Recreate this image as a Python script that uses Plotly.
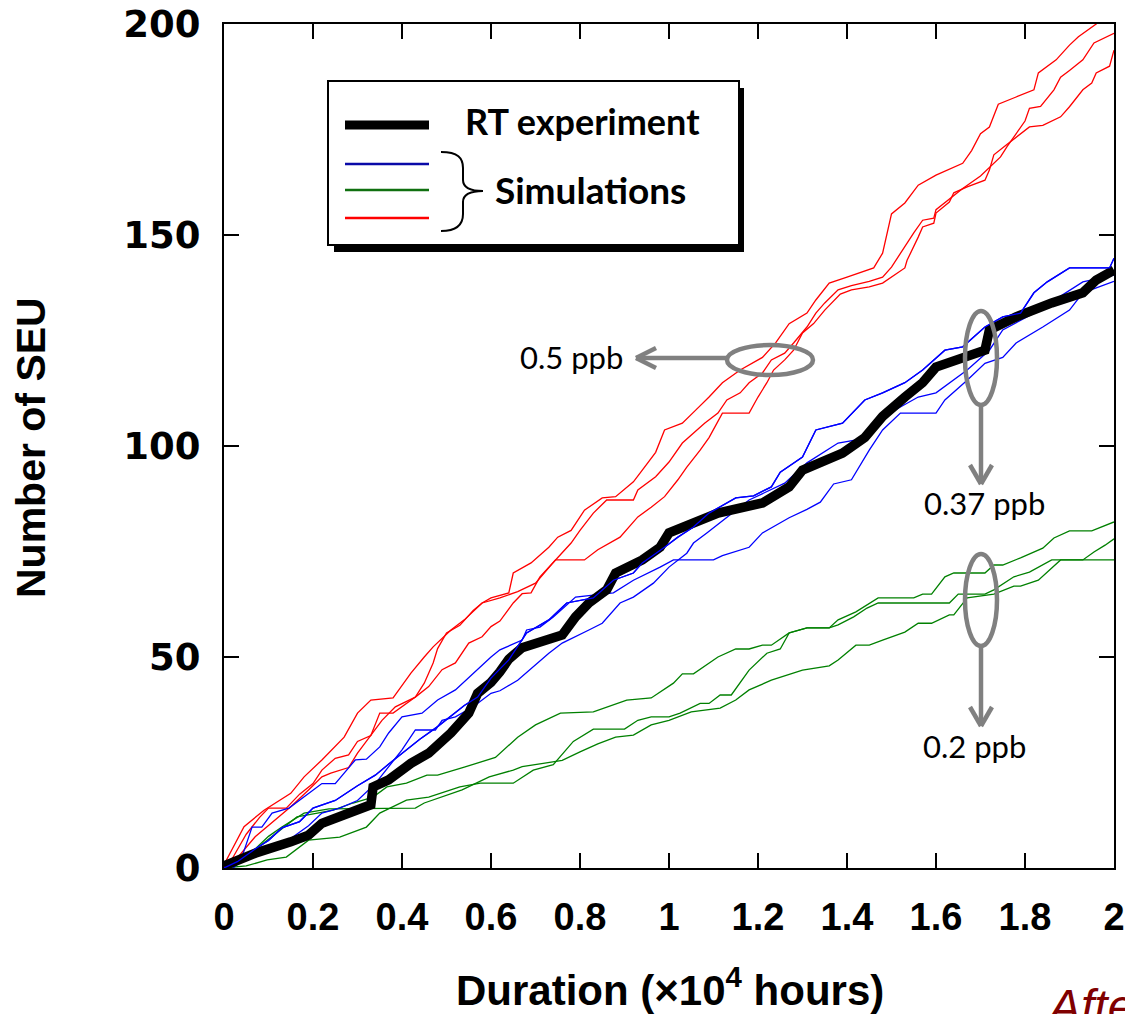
import plotly.graph_objects as go

# RT experiment (x in 10^4 hours, cumulative SEU count)
rt_exp = [(0, 0.5), (0.07, 3.5), (0.15, 6.2), (0.19, 7.8), (0.22, 10.6), (0.28, 13.3), (0.33, 15.0),
          (0.335, 19.2), (0.37, 20.9), (0.42, 24.8), (0.46, 27.2), (0.51, 32.0), (0.55, 36.7), (0.57, 41.4),
          (0.60, 44.0), (0.62, 46.5), (0.64, 49.5), (0.67, 52.2), (0.72, 54.0), (0.76, 55.2), (0.79, 59.5),
          (0.82, 62.8), (0.86, 65.9), (0.88, 69.9), (0.94, 73.0), (0.98, 76.0), (1.0, 79.4), (1.03, 80.8),
          (1.06, 81.8), (1.11, 84.1), (1.21, 86.5), (1.27, 90.3), (1.30, 94.3), (1.39, 98.3), (1.44, 102.0),
          (1.48, 107.0), (1.53, 111.6), (1.57, 115.0), (1.60, 118.7), (1.67, 121.0), (1.71, 122.7),
          (1.72, 127.5), (1.78, 130.6), (1.86, 133.9), (1.93, 136.3), (1.96, 139.3), (2.0, 141.7)]

# simulations at 0.37 ppb (blue)
blue_a = [(0, 0), (0.02, 0.5), (0.04, 2.5), (0.063, 9.7), (0.085, 9.7), (0.108, 13), (0.146, 14.2), (0.19, 17.7),
          (0.22, 20), (0.25, 20), (0.27, 22.5), (0.295, 25.6), (0.32, 25.8), (0.35, 28.7), (0.37, 32), (0.40, 35.8),
          (0.445, 36.7), (0.48, 39.8), (0.52, 42.2), (0.56, 46.2), (0.60, 50), (0.62, 51.7), (0.67, 54), (0.68, 56.4),
          (0.71, 57.1), (0.74, 59.5), (0.79, 64.2), (0.875, 65.2), (0.92, 68.2), (0.98, 71.3), (1.01, 73), (1.10, 73),
          (1.12, 74), (1.18, 76), (1.21, 79.4), (1.27, 83), (1.31, 85), (1.34, 86.7), (1.37, 91), (1.41, 92),
          (1.45, 99), (1.48, 103.8), (1.52, 107.8), (1.60, 107.8), (1.62, 110.9), (1.67, 115.6), (1.71, 119.6),
          (1.75, 121), (1.78, 124.4), (1.84, 128.2), (1.90, 132.2), (1.93, 136.3), (2.0, 139)]
blue_b = [(0, 0), (0.03, 1.5), (0.07, 4.5), (0.10, 6.5), (0.13, 9.5), (0.17, 11), (0.20, 14.2), (0.25, 16),
          (0.30, 19.5), (0.34, 22), (0.38, 25.5), (0.41, 28), (0.44, 30.5), (0.48, 33.5), (0.51, 36), (0.54, 38.5),
          (0.57, 40.5), (0.60, 45), (0.64, 49.3), (0.68, 55.7), (0.73, 58.8), (0.77, 62.8), (0.83, 64), (0.875, 68.2),
          (0.92, 69.9), (0.94, 72.3), (0.99, 76), (1.02, 78.4), (1.055, 80.8), (1.09, 84.1), (1.15, 87.7),
          (1.19, 88.2), (1.23, 90.3), (1.25, 93.8), (1.30, 97.4), (1.33, 103.8), (1.39, 105.4), (1.44, 110.9),
          (1.48, 112.6), (1.53, 115), (1.57, 118), (1.62, 122.7), (1.66, 123.5), (1.71, 128.2), (1.75, 130.6),
          (1.79, 131.5), (1.82, 136.3), (1.85, 138.9), (1.90, 142.2), (1.99, 142.2), (2.0, 144.5)]
blue_c = [(0.02, 0), (0.05, 2.5), (0.10, 4.5), (0.15, 7), (0.19, 10), (0.22, 13), (0.26, 14.2), (0.30, 16),
          (0.34, 20), (0.37, 24), (0.40, 28), (0.43, 32.7), (0.475, 32.7), (0.49, 35), (0.52, 35.8), (0.56, 38.2),
          (0.60, 41.4), (0.62, 42), (0.66, 44.5), (0.73, 50.9), (0.76, 53.3), (0.82, 56.4), (0.85, 58), (0.89, 62.8),
          (0.92, 64.2), (0.965, 67.5), (1.0, 71.3), (1.04, 74.6), (1.055, 77), (1.085, 79.4), (1.115, 81.8),
          (1.18, 87.2), (1.26, 91.2), (1.31, 96), (1.38, 100.7), (1.45, 102), (1.48, 106.9), (1.56, 111.6),
          (1.60, 112.6), (1.67, 118), (1.72, 122.7), (1.75, 127.5), (1.82, 131.5), (1.90, 137), (1.93, 138.9),
          (2.0, 140.5)]

# simulations at 0.2 ppb (green)
green_a = [(0, 0), (0.013, 0.3), (0.06, 3.5), (0.097, 6.6), (0.133, 9.7), (0.164, 12.1), (0.21, 13), (0.245, 13.7),
           (0.29, 15.4), (0.335, 16.8), (0.366, 19.2), (0.41, 20.1), (0.456, 22), (0.48, 22), (0.54, 23.9),
           (0.59, 25.6), (0.61, 26.2), (0.66, 31), (0.70, 33.9), (0.756, 36.7), (0.83, 37), (0.905, 39.8),
           (0.96, 40.3), (1.01, 43.8), (1.03, 46), (1.055, 46), (1.11, 50), (1.15, 51.9), (1.18, 51.9),
           (1.21, 52.8), (1.23, 52.8), (1.27, 55.7), (1.31, 56.9), (1.36, 56.9), (1.38, 58.8), (1.42, 60.7),
           (1.45, 62.8), (1.47, 64), (1.55, 64), (1.57, 64.9), (1.59, 64.9), (1.62, 69), (1.64, 69.9), (1.71, 69.9),
           (1.73, 71.8), (1.75, 71.8), (1.79, 73.5), (1.84, 75.8), (1.865, 78.2), (1.90, 79.9), (1.95, 79.9),
           (2.0, 82)]
green_b = [(0, 0), (0.05, 0.5), (0.097, 1.9), (0.14, 2.6), (0.19, 6.6), (0.26, 7.3), (0.32, 9.7), (0.35, 13),
           (0.41, 16.1), (0.46, 16.8), (0.53, 19.2), (0.576, 20.1), (0.65, 20.1), (0.695, 23.2), (0.74, 24.5),
           (0.785, 30), (0.83, 32.9), (0.90, 32.9), (0.93, 35), (0.96, 35.8), (1.0, 35.8), (1.025, 36.7),
           (1.07, 39), (1.09, 39), (1.115, 41), (1.14, 41), (1.18, 46.9), (1.22, 50.9), (1.25, 51.9), (1.27, 55.7),
           (1.31, 56.9), (1.36, 56.9), (1.38, 57.6), (1.415, 59.5), (1.445, 61.6), (1.47, 62.8), (1.63, 62.8),
           (1.65, 64.9), (1.71, 64.9), (1.73, 65.9), (1.775, 69), (1.81, 70.1), (1.86, 73), (1.93, 73),
           (1.955, 74.9), (1.98, 76.5), (2.0, 78)]
green_c = [(0, 0), (0.03, 1.5), (0.07, 4.5), (0.10, 7.5), (0.13, 9.7), (0.18, 13), (0.236, 14), (0.43, 14.2),
           (0.45, 15.4), (0.535, 18.5), (0.596, 21.6), (0.65, 23.2), (0.67, 24), (0.72, 24.9), (0.76, 25.5),
           (0.80, 27.5), (0.84, 29.4), (0.88, 31), (0.92, 31.5), (0.96, 33.9), (1.0, 35), (1.05, 37), (1.115, 37.9),
           (1.15, 39.8), (1.18, 42.2), (1.23, 44.5), (1.30, 46.9), (1.36, 47.9), (1.38, 49.3), (1.42, 52.8),
           (1.45, 52.8), (1.48, 54), (1.53, 55.9), (1.56, 58), (1.59, 58), (1.63, 60), (1.64, 60), (1.67, 64),
           (1.73, 64.9), (1.775, 66.8), (1.79, 66.8), (1.83, 68.2), (1.88, 73), (2.0, 73)]

# simulations at 0.5 ppb (red)
red_a = [(0, 0), (0.005, 1.8), (0.045, 9.8), (0.09, 13.7), (0.15, 17.7), (0.18, 21.6), (0.22, 25.6), (0.27, 31),
         (0.30, 36.7), (0.33, 39.8), (0.38, 40.3), (0.42, 46.2), (0.45, 50), (0.47, 52.4), (0.51, 56.4), (0.54, 58.8),
         (0.58, 62.8), (0.60, 64), (0.64, 65.2), (0.65, 69.9), (0.69, 72.3), (0.73, 76), (0.75, 78.4), (0.78, 80),
         (0.81, 84.8), (0.85, 87.7), (0.88, 88), (0.92, 91.5), (0.94, 94.3), (0.97, 98.5), (0.99, 103.8),
         (1.03, 105.4), (1.06, 108.5), (1.09, 111.6), (1.12, 115), (1.16, 118), (1.21, 121), (1.24, 124.5),
         (1.27, 129), (1.31, 131.5), (1.33, 134.6), (1.36, 138.6), (1.40, 140), (1.46, 142.2), (1.48, 145.7),
         (1.50, 155), (1.53, 157.6), (1.56, 161.8), (1.60, 164.2), (1.66, 167), (1.68, 170), (1.70, 174),
         (1.72, 175.6), (1.74, 181), (1.78, 182.7), (1.82, 184.4), (1.83, 188.4), (1.87, 191.5), (1.90, 195),
         (1.92, 197), (1.96, 200), (1.98, 202)]
red_b = [(0, 0), (0.02, 2.5), (0.05, 8), (0.08, 12), (0.10, 14.2), (0.14, 14.2), (0.17, 17.5), (0.20, 20),
         (0.22, 23.2), (0.25, 26), (0.28, 26.8), (0.30, 30), (0.33, 31.4), (0.35, 36.7), (0.38, 36.7), (0.40, 38.2),
         (0.43, 40.5), (0.45, 43.8), (0.47, 48.6), (0.48, 52), (0.50, 55.7), (0.53, 57.5), (0.56, 61), (0.58, 62.8),
         (0.62, 64), (0.66, 65.5), (0.70, 67.5), (0.745, 73), (0.78, 77), (0.80, 80), (0.83, 84.1), (0.86, 87.2),
         (0.92, 87.2), (0.93, 89.6), (0.97, 92.7), (1.0, 96.2), (1.03, 100.7), (1.08, 105.4), (1.11, 107.8),
         (1.13, 110.9), (1.16, 112.6), (1.18, 115), (1.21, 117.3), (1.23, 120.4), (1.26, 122), (1.28, 124.4),
         (1.31, 128.2), (1.33, 131.5), (1.35, 133.9), (1.38, 137), (1.41, 138), (1.45, 139), (1.48, 140),
         (1.50, 142.4), (1.52, 145.7), (1.535, 148), (1.55, 150.5), (1.57, 153.5), (1.595, 154), (1.60, 156),
         (1.63, 158.5), (1.66, 161), (1.70, 164), (1.73, 167), (1.745, 168.5), (1.76, 171), (1.78, 174),
         (1.80, 177), (1.81, 180), (1.835, 180.5), (1.865, 184.4), (1.88, 187.4), (1.90, 189), (1.93, 191.5),
         (1.955, 195.5), (2.0, 197.8)]
red_c = [(0, 0), (0.025, 1.8), (0.07, 7.4), (0.15, 14.5), (0.19, 18.5), (0.22, 21.6), (0.24, 22.5), (0.28, 23.8),
         (0.30, 27.2), (0.355, 35), (0.385, 38.2), (0.43, 40.5), (0.46, 43), (0.49, 47), (0.52, 48.6), (0.55, 53.3),
         (0.58, 54.8), (0.60, 57.2), (0.62, 58.5), (0.65, 62.8), (0.67, 65), (0.69, 65.2), (0.71, 69), (0.745, 73),
         (0.81, 73), (0.84, 75.4), (0.89, 78.4), (0.93, 83.2), (0.96, 85.5), (0.99, 88), (1.02, 92), (1.04, 95),
         (1.07, 99), (1.09, 102), (1.12, 107.8), (1.18, 107.8), (1.20, 111.6), (1.22, 115), (1.235, 118),
         (1.26, 120.4), (1.28, 122.7), (1.30, 126.8), (1.325, 129), (1.35, 132.2), (1.385, 136), (1.41, 137),
         (1.45, 137.7), (1.48, 138.6), (1.53, 142.2), (1.535, 144), (1.56, 149.5), (1.57, 151.9), (1.595, 152.8),
         (1.60, 155.2), (1.63, 157.8), (1.64, 160), (1.67, 161.4), (1.71, 163), (1.72, 165.4), (1.73, 169),
         (1.76, 171.5), (1.79, 174), (1.81, 175.6), (1.84, 176), (1.87, 177.5), (1.88, 178), (1.90, 180.4),
         (1.93, 184.4), (1.95, 186), (1.96, 188.4), (1.99, 190), (2.0, 193.8)]

x_ticks = [0, 0.2, 0.4, 0.6, 0.8, 1, 1.2, 1.4, 1.6, 1.8, 2]
y_ticks = [0, 50, 100, 150, 200]
rate_labels = ["0.5 ppb", "0.37 ppb", "0.2 ppb"]

BLUE, GREEN, RED = "#0000ff", "#008000", "#ff0000"
GRAY = "#808080"

# plot area in pixels
L, R, T, B = 224, 1114, 24, 868
W, H = 1125, 1014


def px(xp):
    return (xp - L) / (R - L)


def py(yp):
    return (B - yp) / (B - T)


fig = go.Figure()

for series, color in [(green_a, GREEN), (green_b, GREEN), (green_c, GREEN),
                      (red_a, RED), (red_b, RED), (red_c, RED),
                      (blue_a, BLUE), (blue_b, BLUE), (blue_c, BLUE)]:
    xs, ys = zip(*series)
    fig.add_trace(go.Scatter(x=xs, y=ys, mode="lines", line=dict(color=color, width=1.3),
                             hoverinfo="skip"))

xs, ys = zip(*rt_exp)
fig.add_trace(go.Scatter(x=xs, y=ys, mode="lines", line=dict(color="black", width=9.5),
                         hoverinfo="skip"))
# thin blue drawn over the black, as in the original
xs, ys = zip(*blue_b)
fig.add_trace(go.Scatter(x=xs, y=ys, mode="lines", line=dict(color=BLUE, width=1.3), hoverinfo="skip"))

shapes = []
# legend box with drop shadow
shapes.append(dict(type="rect", xref="paper", yref="paper", x0=px(334), x1=px(744), y0=py(252), y1=py(88),
                   fillcolor="black", line=dict(width=0), layer="above"))
shapes.append(dict(type="rect", xref="paper", yref="paper", x0=px(328), x1=px(739), y0=py(245), y1=py(81),
                   fillcolor="white", line=dict(color="black", width=2), layer="above"))
for yy, col, wd in [(125, "black", 9), (164, "#0a0aa8", 2.5), (190, "#107010", 2.5), (218, RED, 2.5)]:
    shapes.append(dict(type="line", xref="paper", yref="paper", x0=px(345), x1=px(429), y0=py(yy), y1=py(yy),
                       line=dict(color=col, width=wd), layer="above"))

# curly brace
pts = "M{a},{b} C{c},{b} {d},{e} {d},{f} L{d},{g} C{d},{h} {i},{j} {k},{j} C{i},{j} {d},{l} {d},{m} L{d},{n} C{d},{o} {c},{p} {a},{p}"
brace = pts.format(a=px(441), b=py(152), c=px(458), d=px(463), e=py(158), f=py(168), g=py(180), h=py(187),
                   i=px(470), j=py(191), k=px(483), l=py(195), m=py(202), n=py(214), o=py(224), p=py(231))
shapes.append(dict(type="path", xref="paper", yref="paper", path=brace, line=dict(color="black", width=2),
                   layer="above"))

# ellipses around the simulation groups
for cx, cy, rx, ry in [(770, 360, 43, 15), (981, 358, 16, 47), (981, 600, 16, 46)]:
    shapes.append(dict(type="circle", xref="paper", yref="paper", x0=px(cx - rx), x1=px(cx + rx),
                       y0=py(cy + ry), y1=py(cy - ry), line=dict(color=GRAY, width=4.5), layer="above"))

# arrows (shaft + chevron head)
arrows = [((727, 358), (636, 358), [(656, 348), (656, 368)]),
          ((981, 405), (981, 484), [(970, 465), (992, 465)]),
          ((981, 646), (981, 726), [(970, 707), (992, 707)])]
for (x0, y0), (x1, y1), heads in arrows:
    shapes.append(dict(type="line", xref="paper", yref="paper", x0=px(x0), y0=py(y0), x1=px(x1), y1=py(y1),
                       line=dict(color=GRAY, width=4.5), layer="above"))
    for hx, hy in heads:
        shapes.append(dict(type="line", xref="paper", yref="paper", x0=px(hx), y0=py(hy), x1=px(x1), y1=py(y1),
                           line=dict(color=GRAY, width=4.5), layer="above"))

annotations = [
    dict(text="RT experiment", x=px(463), y=py(121), xanchor="left", yanchor="middle",
         font=dict(family="Lato", size=36, color="black", weight="bold")),
    dict(text="Simulations", x=px(493), y=py(190), xanchor="left", yanchor="middle",
         font=dict(family="Lato", size=37, color="black", weight="bold")),
    dict(text=rate_labels[0], x=px(571), y=py(357), xanchor="center", yanchor="middle",
         font=dict(family="Lato", size=31, color="black")),
    dict(text=rate_labels[1], x=px(984), y=py(503), xanchor="center", yanchor="middle",
         font=dict(family="Lato", size=31, color="black")),
    dict(text=rate_labels[2], x=px(974), y=py(746), xanchor="center", yanchor="middle",
         font=dict(family="Lato", size=31, color="black")),
    dict(text="Duration (×10<sup>4</sup> hours)", x=px(670), y=py(987), xanchor="center", yanchor="middle",
         font=dict(family="Liberation Sans, Arial", size=42, color="black", weight="bold")),
    dict(text="Number of SEU", x=px(31), y=py(448), xanchor="center", yanchor="middle", textangle=-90,
         font=dict(family="Liberation Sans, Arial", size=41, color="black", weight="bold")),
    dict(text="After", x=px(1044), y=py(978), xanchor="left", yanchor="top",
         font=dict(family="Liberation Sans, Arial", size=48, color="#800000", style="italic")),
]
for a in annotations:
    a.update(xref="paper", yref="paper", showarrow=False)

axis_common = dict(showline=True, linecolor="black", linewidth=2, mirror="ticks", ticks="inside",
                   ticklen=15, tickwidth=1.5, tickcolor="black", showgrid=False, zeroline=False,
                   automargin=False)

fig.update_layout(
    width=W, height=H,
    margin=dict(l=L, r=W - R, t=T, b=H - B),
    plot_bgcolor="white", paper_bgcolor="white",
    showlegend=False,
    xaxis=dict(range=[0, 2], tickvals=x_ticks, ticktext=[f"{v:g}" for v in x_ticks],
               ticklabelstandoff=14,
               tickfont=dict(family="Liberation Sans, Arial", size=38, color="black", weight="bold"),
               **axis_common),
    yaxis=dict(range=[0, 200], tickvals=y_ticks, ticklabelstandoff=14,
               tickfont=dict(family="DejaVu Sans, Liberation Sans", size=37, color="black", weight="bold"),
               **axis_common),
    shapes=shapes,
    annotations=annotations,
)

fig.write_html("out.html", config={"displayModeBar": False},
               post_script="document.body.style.margin='0';document.body.style.overflow='hidden';")
